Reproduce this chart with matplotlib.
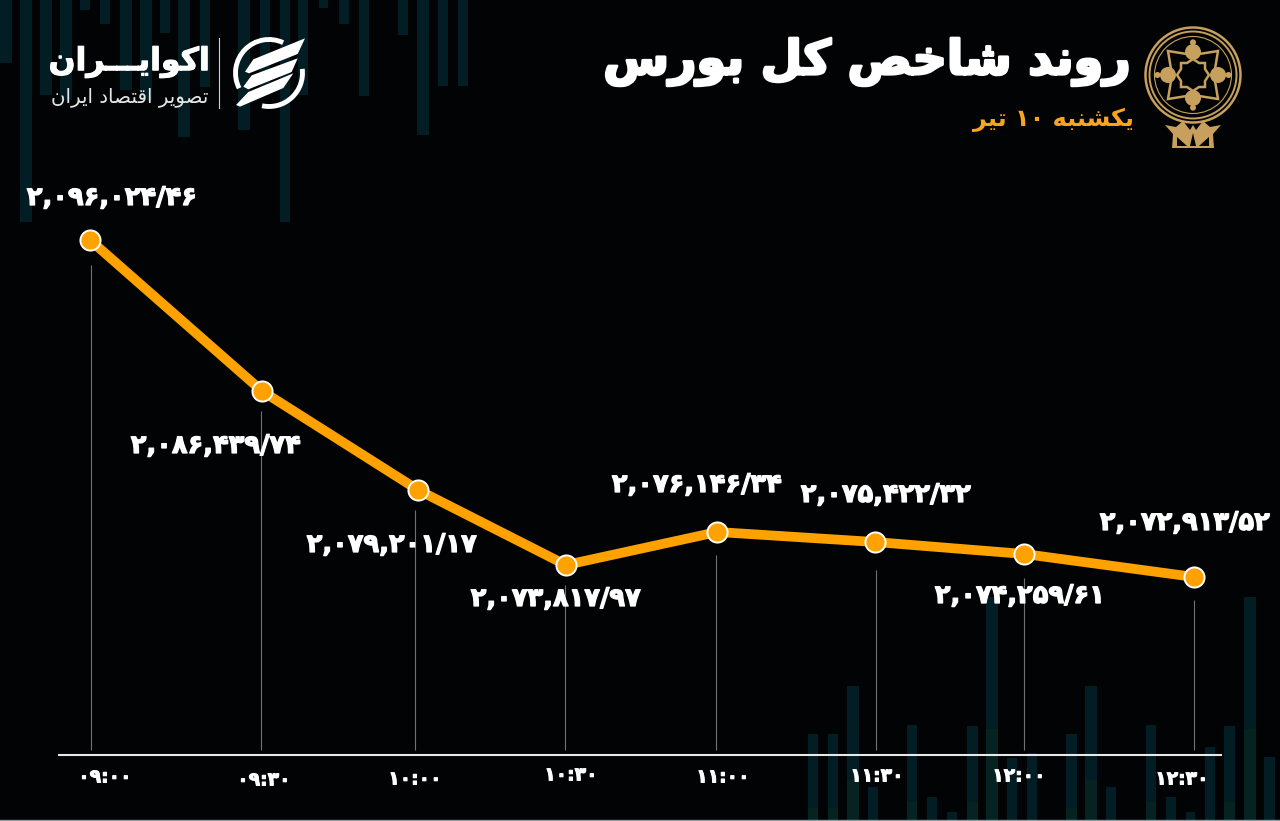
import re
import numpy as np
import matplotlib
matplotlib.use('Agg')
import matplotlib.pyplot as plt
import matplotlib.patheffects as pe
from matplotlib.patches import Arc, Circle, Polygon

W, H = 1280, 821
BG = '#020304'
ORANGE = '#FFA200'
GOLD = '#C6A05C'
BAR = '#031D24'
BAR_OVER = '#062322'

# --- chart data
time_labels = ['۰۹:۰۰', '۰۹:۳۰', '۱۰:۰۰', '۱۰:۳۰', '۱۱:۰۰', '۱۱:۳۰', '۱۲:۰۰', '۱۲:۳۰']
value_labels = ['۲,۰۹۶,۰۲۴/۴۶', '۲,۰۸۶,۴۳۹/۷۴', '۲,۰۷۹,۲۰۱/۱۷', '۲,۰۷۳,۸۱۷/۹۷',
                '۲,۰۷۶,۱۴۶/۳۴', '۲,۰۷۵,۴۲۲/۳۲', '۲,۰۷۴,۲۵۹/۶۱', '۲,۰۷۲,۹۱۳/۵۲']
# minutes since midnight: the points are not evenly spaced there
point_minutes = [540.0, 572.7, 602.4, 630.5, 659.3, 689.3, 717.7, 750.0]
drop_minutes = [540.2, 572.5, 601.8, 630.3, 659.0, 689.5, 717.7, 750.0]
# index level read from the height of the line, it does not track the printed labels exactly
index_level = [2096024, 2085669, 2078880, 2073736, 2076000, 2075314, 2074491, 2072914]
drop_gap = [1700, 1400, 1400, 1400, 1600, 1900, 1650, 1600]

# --- faint background candles
top_left = [0, 20, 40, 60, 80, 100, 120, 140, 160, 178, 200, 238, 260, 280, 298, 319, 339, 359, 398, 417, 438, 458]
top_wide = [12, 12, 12, 12, 10, 10, 12, 12, 10, 12, 10, 12, 10, 10, 10, 9, 10, 10, 10, 12, 10, 10]
top_len = [63, 222, 95, 100, 10, 24, 90, 100, 33, 137, 87, 130, 95, 222, 95, 8, 24, 96, 35, 135, 86, 86]
bottom_left = [808, 828, 847, 868, 907, 927, 947, 967, 986, 1007, 1027, 1066, 1085, 1106, 1146, 1166, 1186, 1205, 1224, 1244, 1264]
bottom_wide = [10, 10, 12, 10, 10, 10, 10, 11, 12, 10, 10, 11, 12, 10, 10, 10, 9, 10, 11, 12, 11]
bottom_len = [87, 87, 135, 34, 96, 24, 9, 95, 224, 63, 68, 87, 135, 34, 96, 24, 9, 74, 95, 224, 64]
over_left = [808, 828, 847, 907, 967, 986, 1066, 1085, 1146, 1224, 1244]
over_wide = [10, 10, 12, 10, 11, 12, 11, 12, 10, 11, 12]
over_len = [13, 13, 41, 19, 19, 92, 13, 41, 19, 19, 92]

# --- text
title = 'روند شاخص کل بورس'
subtitle = 'یکشنبه ۱۰ تیر'
brand = 'اکوایـــران'
brand_sub = 'تصویر اقتصاد ایران'

# (isolated, final, initial, medial), matplotlib does no arabic shaping by itself
FORMS = {
    'ا': '\uFE8D\uFE8E', 'د': '\uFEA9\uFEAA', 'ر': '\uFEAD\uFEAE', 'و': '\uFEED\uFEEE',
    'ب': '\uFE8F\uFE90\uFE91\uFE92', 'ت': '\uFE95\uFE96\uFE97\uFE98', 'خ': '\uFEA5\uFEA6\uFEA7\uFEA8',
    'س': '\uFEB1\uFEB2\uFEB3\uFEB4', 'ش': '\uFEB5\uFEB6\uFEB7\uFEB8', 'ص': '\uFEB9\uFEBA\uFEBB\uFEBC',
    'ق': '\uFED5\uFED6\uFED7\uFED8', 'ک': '\uFB8E\uFB8F\uFB90\uFB91', 'ل': '\uFEDD\uFEDE\uFEDF\uFEE0',
    'ن': '\uFEE5\uFEE6\uFEE7\uFEE8', 'ه': '\uFEE9\uFEEA\uFEEB\uFEEC', 'ی': '\uFBFC\uFBFD\uFBFE\uFBFF',
    'ـ': 'ــــ',
}


def shape(text):
    out = []
    for i, c in enumerate(text):
        if c not in FORMS:
            out.append(c)
            continue
        prev = text[i - 1] if i > 0 else ''
        nxt = text[i + 1] if i < len(text) - 1 else ''
        joins_prev = prev in FORMS and len(FORMS[prev]) == 4
        joins_next = nxt in FORMS and len(FORMS[c]) == 4
        idx = (3 if joins_next else 1) if joins_prev else (2 if joins_next else 0)
        out.append(FORMS[c][idx])
    visual = ''.join(out)[::-1]
    # digits keep their left to right order
    return re.sub('[۰-۹]+', lambda m: m.group(0)[::-1], visual)


def heavy(width, color='white'):
    return [pe.withStroke(linewidth=width, foreground=color)]


plt.rcParams['font.family'] = ['DejaVu Sans']
fig = plt.figure(figsize=(W / 100, H / 100), dpi=100, facecolor=BG)

# --- full size layer in picture pixels, for candles, logos and texts
bg = fig.add_axes([0, 0, 1, 1])
bg.set_xlim(0, W)
bg.set_ylim(H, 0)
bg.axis('off')
bg.bar(top_left, top_len, top_wide, bottom=0, align='edge', color=BAR, zorder=1)
bg.bar(bottom_left, np.negative(bottom_len), bottom_wide, bottom=H, align='edge', color=BAR, zorder=1)
bg.bar(over_left, np.negative(over_len), over_wide, bottom=H, align='edge', color=BAR_OVER, zorder=1)
bg.axhline(820.5, color='#8a9a9e', lw=1, zorder=1)

# --- chart
ax = fig.add_axes([59 / W, 1 - 755 / H, (1221 - 59) / W, (755 - 200) / H])
ax.patch.set_alpha(0)
ax.set_xlim(534.1, 755.1)
ax.set_ylim(2060707, 2098767)
for side in ['top', 'left', 'right']:
    ax.spines[side].set_visible(False)
ax.spines['bottom'].set_color('#e8e8e8')
ax.spines['bottom'].set_linewidth(1.5)
ax.set_xticks([])
ax.set_yticks([])
ax.vlines(drop_minutes, 2061050, np.array(index_level) - np.array(drop_gap), color='#6f7273', lw=0.8, zorder=2)
ax.plot(point_minutes, index_level, color=ORANGE, lw=7, solid_capstyle='round', zorder=3,
        marker='o', ms=14.5, mfc=ORANGE, mec='white', mew=1.4)

# --- labels, placed by hand as on the picture
label_x = [112, 216, 392, 556, 697, 886, 1020, 1185]
label_y = [198, 446, 545, 599, 485, 495, 596, 523]
tick_x = [105, 264, 415, 571, 723, 877, 1019, 1182]
tick_y = [777, 780, 779, 775, 777, 776, 776, 779]
for x, y, s in zip(label_x, label_y, value_labels):
    fig.text(x / W, 1 - y / H, s, color='white', fontsize=18.5, fontweight='bold', ha='center', va='center',
             zorder=5, path_effects=heavy(0.9))
for x, y, s in zip(tick_x, tick_y, time_labels):
    fig.text(x / W, 1 - y / H, s, color='white', fontsize=13.5, fontweight='bold', ha='center', va='center',
             zorder=5, path_effects=heavy(0.7))

fig.text(1130 / W, 1 - 62 / H, shape(title), color='white', fontsize=34.3, fontweight='bold', ha='right', va='center',
         path_effects=heavy(2.0))
fig.text(1134 / W, 1 - 120 / H, shape(subtitle), color='#F7A51E', fontsize=17.3, fontweight='bold', ha='right', va='center')
fig.text(210 / W, 1 - 62 / H, shape(brand), color='white', fontsize=22.7, fontweight='bold', ha='right', va='center',
         path_effects=heavy(0.8))
fig.text(208 / W, 1 - 97 / H, shape(brand_sub), color='#e6e6e6', fontsize=14.2, ha='right', va='center')

# --- ekoiran logo
bg.plot([219, 219], [38, 108], color='#d0d0d0', lw=0.8, zorder=4)
def lg(points):
    return [(225 + x / 3, 30 + y / 3) for x, y in points]
for pts in ([(240, 25), (218, 72), (72, 130), (60, 125), (85, 88)],
            [(218, 85), (200, 126), (70, 178), (55, 170), (80, 136)],
            [(205, 130), (175, 174), (45, 230), (33, 225), (70, 186)]):
    bg.add_patch(Polygon(lg(pts), closed=True, color='white', lw=0, zorder=4))
bg.add_patch(Arc((269, 73), 67, 67, theta1=153, theta2=295, color='white', lw=3.5, zorder=4))
bg.add_patch(Arc((269, 73), 67, 67, theta1=-7, theta2=102, color='white', lw=3.5, zorder=4))

# --- bourse emblem
cx, cy = 1193, 75
for r, lw in [(47.5, 1.8), (43.5, 1.4), (38.5, 0.8)]:
    bg.add_patch(Circle((cx, cy), r, fill=False, ec=GOLD, lw=lw, zorder=4))
for dx, dy in [(0, -23), (0, 23), (-25, 0), (25, 0)]:
    bg.add_patch(Circle((cx + dx, cy + dy), 8, color=GOLD, lw=0, zorder=4))
    bg.add_patch(Circle((cx + dx * 1.42, cy + dy * 1.42), 3, color=GOLD, lw=0, zorder=4))
square = [(-25, -24), (0, -20), (25, -24), (21, 0), (25, 24), (0, 20), (-25, 24), (-21, 0)]
bg.add_patch(Polygon([(cx + x, cy + y) for x, y in square], closed=True, fill=False, ec=GOLD, lw=1.8, zorder=5))
star = [(0, -16), (6, -12), (12, -12), (12, -6), (16, 0), (12, 6), (12, 12), (6, 12),
        (0, 16), (-6, 12), (-12, 12), (-12, 6), (-16, 0), (-12, -6), (-12, -12), (-6, -12)]
bg.add_patch(Polygon([(cx + x, cy + y) for x, y in star], closed=True, fill=False, ec=GOLD, lw=1.8, zorder=5))
base = [(1165, 125), (1176, 127), (1183, 121), (1190, 130), (1193, 125), (1196, 130), (1203, 121),
        (1210, 127), (1221, 125), (1213, 134), (1214, 148), (1172, 148), (1173, 134)]
bg.add_patch(Polygon(base, closed=True, color=GOLD, lw=0, zorder=4))
for hole in ([(1177, 146), (1177, 137), (1187, 146)], [(1209, 146), (1209, 137), (1199, 146)],
             [(1190, 146), (1193, 133), (1196, 146)]):
    bg.add_patch(Polygon(hole, closed=True, color=BG, lw=0, zorder=5))

fig.savefig('out.png', dpi=100, facecolor=BG)
